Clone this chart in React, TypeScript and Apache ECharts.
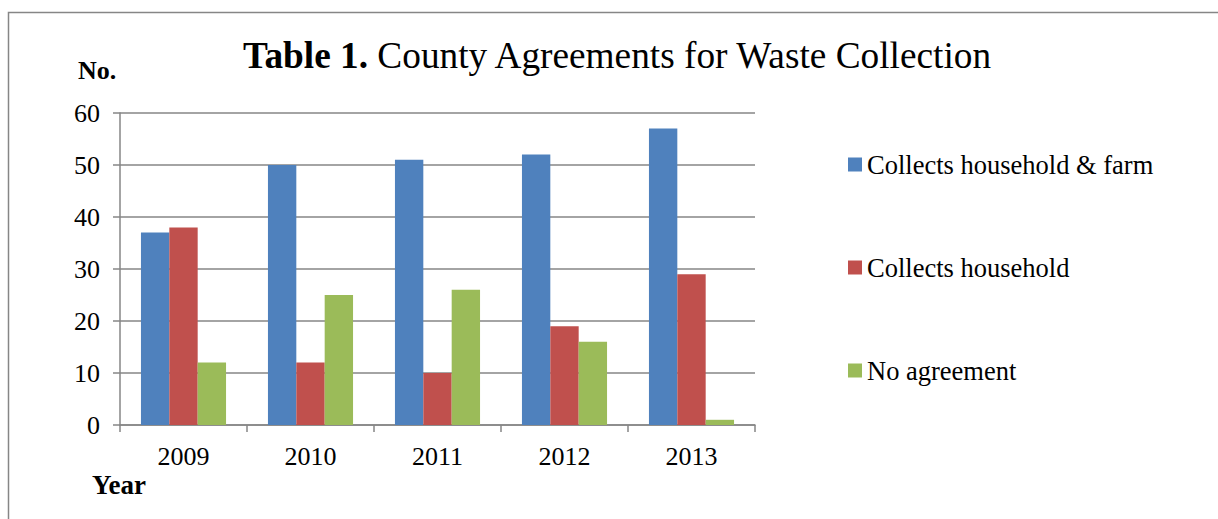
import React, { useEffect, useRef } from "react";
import * as echarts from "echarts";

const years = ["2009", "2010", "2011", "2012", "2013"];
const householdFarm = [37, 50, 51, 52, 57];
const household = [38, 12, 10, 19, 29];
const noAgreement = [12, 25, 26, 16, 1];
const seriesNames = ["Collects household & farm", "Collects household", "No agreement"];
const colors = ["#4F81BD", "#C0504D", "#9BBB59"];

const FONT = "'Liberation Serif', 'Times New Roman', serif";

export default function App() {
  const ref = useRef<HTMLDivElement>(null);
  useEffect(() => {
    document.body.style.margin = "0";
    const chart = echarts.init(ref.current!, null, { renderer: "svg" });
    const values = [householdFarm, household, noAgreement];
    chart.setOption({
      animation: false,
      backgroundColor: "#ffffff",
      textStyle: { fontFamily: FONT, color: "#000" },
      title: {
        text: "{b|Table 1.} County Agreements for Waste Collection",
        left: 243,
        top: 37,
        padding: 0,
        textStyle: {
          fontFamily: FONT,
          fontSize: 37.3,
          fontWeight: "normal",
          color: "#000",
          rich: {
            b: { fontFamily: FONT, fontSize: 37.3, fontWeight: "bold", color: "#000" },
          },
        },
      },
      legend: {
        orient: "vertical",
        left: 848,
        top: 151,
        padding: 0,
        itemWidth: 14,
        itemHeight: 14,
        itemGap: 76,
        icon: "rect",
        textStyle: { fontFamily: FONT, fontSize: 26.5, color: "#000", lineHeight: 26 },
        data: seriesNames,
      },
      grid: { left: 120, right: 463, top: 113, bottom: 94 },
      xAxis: {
        type: "category",
        data: years,
        axisLine: { lineStyle: { color: "#868686", width: 1.5 } },
        axisTick: { show: true, length: 7, lineStyle: { color: "#868686", width: 1.5 } },
        axisLabel: { fontFamily: FONT, fontSize: 26, color: "#000", margin: 18 },
      },
      yAxis: {
        type: "value",
        min: 0,
        max: 60,
        interval: 10,
        axisLine: { show: true, lineStyle: { color: "#868686", width: 1.5 } },
        axisTick: { show: true, length: 7, lineStyle: { color: "#868686", width: 1.5 } },
        splitLine: { lineStyle: { color: "#868686", width: 1.5 } },
        axisLabel: { fontFamily: FONT, fontSize: 26, color: "#000", margin: 20 },
      },
      series: seriesNames.map((name, i) => ({
        name,
        type: "bar",
        data: values[i],
        barGap: "0%",
        barCategoryGap: "33%",
        itemStyle: { color: colors[i] },
      })),
      graphic: [
        {
          type: "rect",
          shape: { x: 8.5, y: 12.5, width: 1240, height: 540 },
          style: { fill: "none", stroke: "#868686", lineWidth: 1.5 },
          silent: true,
        },
        {
          type: "text",
          left: 78,
          top: 57,
          style: { text: "No.", font: `bold 26px ${FONT}`, fill: "#000" },
        },
        {
          type: "text",
          left: 92,
          top: 471,
          style: { text: "Year", font: `bold 27px ${FONT}`, fill: "#000" },
        },
      ],
    });
    return () => chart.dispose();
  }, []);
  return (
    <div
      ref={ref}
      style={{ position: "absolute", left: 0, top: 0, width: 1218, height: 519 }}
    />
  );
}
